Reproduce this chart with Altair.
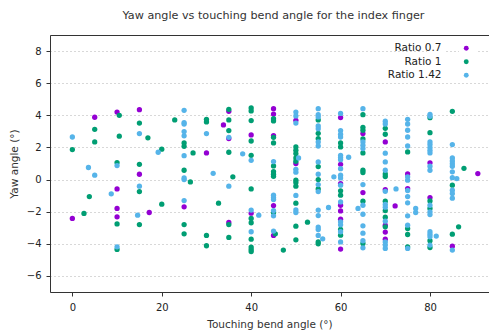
import altair as alt
import pandas as pd

# Ratio 0.7 (purple)
r07_x = [15, 10, 5, 15, 10, 10, 10, 0, 17.2,
         35, 33.8, 35, 30, 25, 35,
         40, 40, 45, 45, 45, 45, 45, 50, 50,
         60, 60, 60, 60, 60, 60, 60, 65, 65, 70, 70, 70, 70, 70, 72.2, 75, 75,
         80, 80, 85, 90.7]
r07_y = [4.35, 4.2, 3.88, 0.33, -0.58, -1.8, -2.32, -2.42, -2.05,
         4.25, 3.4, 2.55, 1.66, -1.7, -2.67,
         2.78, -2.09, 4.41, 4.08, 2.74, -1.62, -3.48, 3.69, 1.0,
         3.86, 0.95, -0.25, -1.6, -1.95, -2.47, -4.33, 2.86, -0.81, 2.34, -0.62, -2.84, -3.27, -3.71, -1.64, 0.35, -0.56,
         1.04, -1.12, -4.15, 0.37]

# Ratio 1 (green)
r1_x = [10.5, 15, 5, 10.5, 5, 16.9, 0, 10, 15, 15, 3.8, 10, 2.6, 15, 10,
        35, 22.9, 30, 30, 35, 35, 25, 25, 35, 20, 27, 25, 35.9, 26.4, 20, 32.7, 25, 35, 25, 30, 35, 30,
        40, 40, 40, 40, 40, 40, 40, 40, 40, 40, 40, 40,
        45, 45, 45, 45, 45, 45, 45, 45, 45, 45.4, 47.2,
        50, 50, 50, 50, 50, 50, 50, 50, 50, 50, 50, 52.6,
        55, 55, 55, 55, 55, 55, 55, 55,
        60, 60, 60, 60, 60, 60,
        65, 65, 65, 65, 65, 65, 65, 65, 65,
        70, 70, 70, 70, 70, 70, 70, 70,
        75, 75, 75, 75,
        80, 80, 80, 80, 80, 80,
        85, 85, 85, 87.6, 86.4]
r1_y = [4.0, 3.52, 3.13, 2.7, 2.34, 2.6, 1.87, 1.06, 0.95, -0.75, -1.06, -2.76, -2.11, -2.8, -4.35,
        4.37, 3.71, 3.75, 3.59, 3.71, 3.05, 2.28, 2.07, 1.7, 1.89, 1.66, 0.58, 0.17, -0.15, -1.53, -1.47, -2.8, -2.8, -3.38, -3.48, -3.6, -4.12,
        4.46, 4.27, 3.67, 2.4, 1.51, -0.58, -2.42, -2.69, -3.71, -4.2, -4.35, -4.48,
        3.79, 3.65, 2.63, 2.28, 0.85, 0.5, 0.33, 0.2, -2.05, -3.38, -4.39,
        2.03, 1.82, 1.62, 1.35, 1.14, -0.04, -0.19, -0.41, -1.47, -2.9, -3.75, -2.65,
        3.71, 2.88, 2.55, 0.81, 0.0, -0.58, -3.88, -4.0,
        2.28, 2.03, -0.7, -0.97, -3.11, -3.46,
        4.04, 3.25, 3.07, 2.53, 1.66, 0.58, 0.44, -1.35, -3.98,
        3.19, 2.82, 0.35, 0.19, -1.35, -1.93, -2.34, -2.94,
        1.72, -3.05, -3.42, -4.19,
        3.85, 2.92, -1.33, -1.8, -3.81, -4.23,
        4.25, -0.35, -3.4, 0.7, -2.94]

# Ratio 1.42 (blue)
r142_x = [0, 15, 10, 3.6, 5, 15, 8.7, 14.6, 10,
          25, 25, 25, 25, 25, 30, 35, 19.2, 25, 25, 25, 31.5, 35, 25,
          40, 40, 40, 38.1, 41.7,
          45, 45, 45, 45, 45, 45, 45,
          50, 50, 50, 50, 50, 50, 50, 50, 50.6,
          55, 55, 55, 55, 55, 55, 55, 55, 55, 55, 55, 55, 55, 55, 55, 55, 56, 57.3,
          60, 60, 60, 60, 60, 60, 60, 60, 60, 60, 60, 60, 60, 60, 60, 60, 61.8, 58.5,
          65, 65, 65, 65, 65, 65, 65, 65, 65, 65, 65, 63.9,
          70, 70, 70, 70, 70, 70, 70, 70, 70, 70, 70, 70, 72.4,
          75, 75, 75, 75, 75, 75, 75, 75, 75, 75, 75, 75, 75, 76.8, 76.8,
          80, 80, 80, 80, 80, 80, 80, 80, 80, 80, 80, 80, 80, 80, 80, 80, 81.4,
          85, 85, 85, 85, 85, 85, 85, 85, 85, 85, 85, 86]
r142_y = [2.65, 2.86, 0.87, 0.75, 0.27, -0.41, -0.89, -2.22, -4.19,
          4.31, 3.54, 3.46, 2.99, 2.72, 2.86, 2.63, 1.7, 1.49, 0.1, 0.0, 0.39, -0.41, -1.31,
          1.2, -1.9, -3.25, 1.6, -2.22,
          1.12, -0.97, -1.12, -1.24, -1.93, -2.26, -3.21,
          4.2, 3.96, 3.52, 0.64, 0.46, -0.99, -1.89, -2.05, 1.35,
          4.41, 4.04, 3.9, 3.34, 3.17, 2.34, 2.09, 1.1, 0.33, -0.31, -0.75, -1.9, -2.24, -2.96, -3.11, -3.48, -3.69, -1.74,
          4.12, 3.05, 2.82, 2.65, 1.51, 1.37, 1.24, 0.68, 0.27, 0.1, -0.35, -1.39, -2.63, -2.82, -3.25, -3.88, 1.39, 0.17,
          4.41, 2.34, 2.13, 1.93, -0.31, -1.6, -2.16, -2.88, -3.34, -3.81, -4.25, -1.8,
          3.63, 3.46, 1.64, 1.1, 0.58, -0.73, -1.55, -1.72, -2.59, -3.88, -4.08, -4.29, -0.58,
          3.75, 3.46, 3.07, 2.65, 2.09, 0.17, -0.04, -0.68, -1.06, -1.45, -2.26, -2.84, -4.29, -1.8, -2.05,
          4.06, 3.94, 2.34, 2.18, 1.99, 1.82, 1.66, 0.83, 0.58, -1.6, -2.01, -2.18, -3.25, -3.4, -3.56, -4.08, -3.52,
          2.18, 1.35, 1.16, 0.99, 0.83, 0.48, 0.12, -0.66, -0.87, -1.16, -4.39, 0.06]

series_names = ["Ratio 0.7", "Ratio 1", "Ratio 1.42"]
ratio_values = ["0.7", "1", "1.42"]
series_colors = ["#9400d3", "#009e73", "#56b4e9"]
x_ticks = [0, 20, 40, 60, 80]
y_ticks = [-6, -4, -2, 0, 2, 4, 6, 8]

rows = []
for name, rv, xs, ys in zip(series_names, ratio_values, [r07_x, r1_x, r142_x], [r07_y, r1_y, r142_y]):
    for a, b in zip(xs, ys):
        rows.append({"bend": a, "yaw": b, "series": name, "ratio": rv})
df = pd.DataFrame(rows)
df["order"] = range(len(df))

FONT = "DejaVu Sans"

base = alt.Chart(df)

points = base.mark_point(filled=True, size=28, opacity=1, strokeWidth=0).encode(
    x=alt.X("bend:Q", scale=alt.Scale(domain=[-5, 93.2], nice=False, zero=False),
            axis=alt.Axis(values=x_ticks, title="Touching bend angle (°)", grid=False,
                          domainColor="#333", tickColor="#333", tickSize=4,
                          labelColor="#222", labelFontSize=10, labelPadding=6,
                          titleFontSize=10.5, titleColor="#333", titleFontWeight="normal",
                          titlePadding=7, labelFont=FONT, titleFont=FONT)),
    y=alt.Y("yaw:Q", scale=alt.Scale(domain=[-7, 9], nice=False, zero=False),
            axis=alt.Axis(values=y_ticks, title="Yaw angle (°)", grid=True,
                          gridColor="#b0b0b0", gridDash=[1, 3], gridWidth=1,
                          domainColor="#333", tickColor="#333", tickSize=4,
                          labelColor="#222", labelFontSize=10, labelPadding=5,
                          titleFontSize=10.5, titleColor="#333", titleFontWeight="normal",
                          titlePadding=7, labelFont=FONT, titleFont=FONT)),
    color=alt.Color("series:N", scale=alt.Scale(domain=series_names, range=series_colors),
                    legend=alt.Legend(title=None, orient="none", legendX=409, legendY=6,
                                      symbolType="circle", symbolSize=24, symbolStrokeWidth=0,
                                      labelExpr="''", labelFontSize=10.5,
                                      rowPadding=2.5, padding=2, fillColor="white")),
    shape=alt.Shape("ratio:N", scale=alt.Scale(domain=ratio_values, range=["circle", "circle", "circle"]),
                    legend=alt.Legend(title=None, orient="none", legendX=377, legendY=6,
                                      symbolOpacity=0, symbolStrokeWidth=0, symbolSize=24,
                                      labelExpr="'Ratio ' + datum.label",
                                      labelAlign="right", labelOffset=2,
                                      labelFontSize=10.5, labelFont=FONT, labelColor="#222",
                                      rowPadding=2.5, padding=2, fillColor="white")),
    order=alt.Order("order:Q"),
)

top_axis = base.mark_point(opacity=0).encode(
    x=alt.X("bend:Q", scale=alt.Scale(domain=[-5, 93.2], nice=False, zero=False),
            axis=alt.Axis(orient="top", values=x_ticks, labels=False, title=None,
                          domainColor="#333", tickColor="#333", tickSize=0, grid=False)),
)

chart = alt.layer(points, top_axis).resolve_axis(x="independent").properties(
    width=439, height=257,
    autosize=alt.AutoSizeParams(type="none"),
    padding={"left": 50, "top": 35, "right": 0, "bottom": 41},
    title=alt.TitleParams("Yaw angle vs touching bend angle for the index finger",
                          font=FONT, fontSize=11.2, fontWeight="normal", color="#333",
                          anchor="middle", offset=13, dx=4),
).configure_view(stroke=None).configure(background="white")

chart.save("out.html", embed_options={"renderer": "svg", "actions": False})
